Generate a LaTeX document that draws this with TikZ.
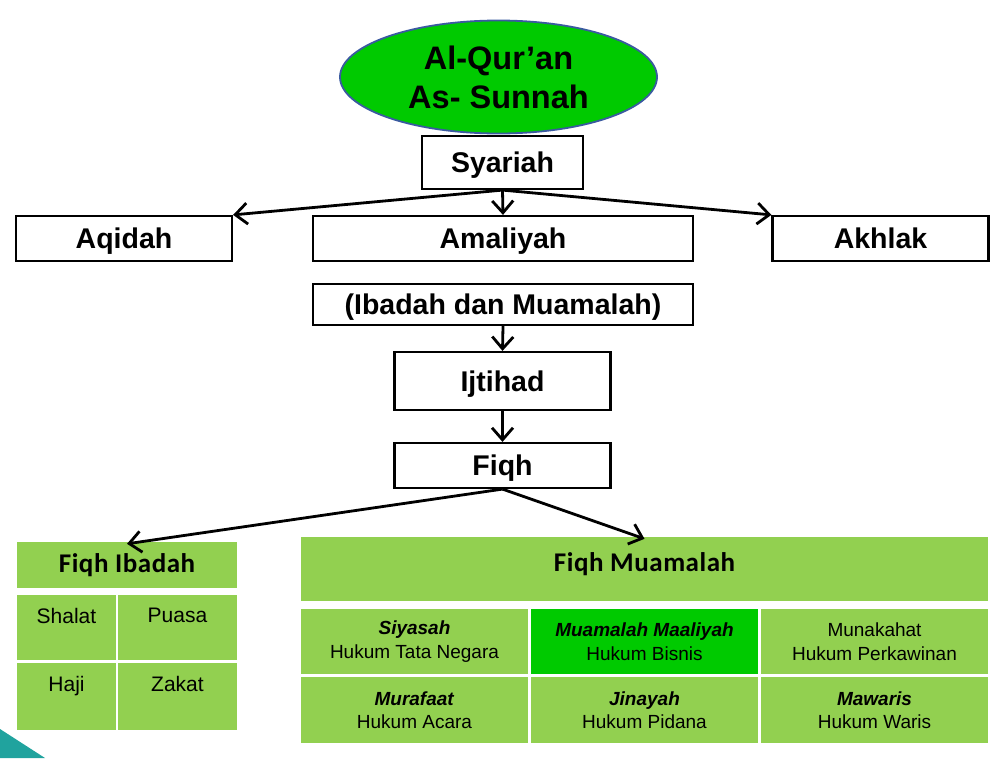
\documentclass[tikz,border=0pt]{standalone}
\usepackage{fontspec}
\setmainfont{Liberation Sans}
\newfontfamily\carlito{Carlito}[LetterSpace=2]
\usetikzlibrary{shapes.geometric,arrows.meta}
\definecolor{lgreen}{RGB}{146,208,80}
\definecolor{dgreen}{RGB}{0,202,0}
\definecolor{eblue}{RGB}{58,90,160}
\definecolor{teal2}{RGB}{32,163,158}
\tikzset{
  box/.style={draw=black,line width=2.2pt,fill=white,inner sep=0pt,
    text height=20.4pt,text depth=0pt,
    font=\fontsize{28.5}{32}\selectfont\bfseries},
  arr/.style={line width=2.8pt,-{Straight Barb[length=12pt,width=21pt,line width=2.8pt]}},
  gcell/.style={fill=lgreen,inner sep=0pt,draw=none},
  ghead/.style={gcell,font=\fontsize{27}{30}\carlito\bfseries},
  ctxt/.style={inner sep=0pt,font=\fontsize{21}{25}\selectfont},
  mtxt/.style={gcell,align=center,font=\fontsize{19}{23.5}\selectfont},
}
\begin{document}
\begin{tikzpicture}[x=1pt,y=-1pt]
\useasboundingbox (0,0) rectangle (1004,758);
\fill[teal2] (0,729) -- (45,758) -- (0,758) -- cycle;

\node[ellipse,draw=eblue,line width=1.8pt,fill=dgreen,minimum width=317,minimum height=113,inner sep=0pt,align=center,
  font=\fontsize{32.5}{39}\selectfont\bfseries] (q) at (498.5,77) {Al-Qur’an\\As- Sunnah};
\node[box,minimum width=161,minimum height=53] (s) at (502.5,162.5) {Syariah};
\node[box,minimum width=216,minimum height=45] (aq) at (124,238.5) {Aqidah};
\node[box,minimum width=380,minimum height=45] (am) at (503,238.5) {Amaliyah};
\node[box,minimum width=216,minimum height=45] (ak) at (880.5,238.5) {Akhlak};
\node[box,minimum width=380,minimum height=41] (ib) at (503,304.5) {(Ibadah dan Muamalah)};
\node[box,minimum width=216,minimum height=58] (ij) at (502.5,381) {Ijtihad};
\node[box,minimum width=216,minimum height=45] (f) at (502.5,465.5) {Fiqh};

\draw[arr] (s.south) -- (aq.north east);
\draw[arr] (s.south) -- (am.north);
\draw[arr] (s.south) -- (ak.north west);
\draw[arr] (ib.south) -- (ij.north);
\draw[arr] (ij.south) -- (f.north);

% Fiqh Ibadah
\node[ghead,minimum width=220,minimum height=46] (fi) at (127,565) {Fiqh Ibadah};
\node[gcell,minimum width=99,minimum height=65,label={[ctxt,anchor=north,yshift=-13pt]north:Shalat}] (c11) at (66.5,627.5) {};
\node[gcell,minimum width=119,minimum height=65,label={[ctxt,anchor=north,yshift=-13pt]north:Puasa}] (c12) at (177.5,627.5) {};
\node[gcell,minimum width=99,minimum height=67,label={[ctxt,anchor=north,yshift=-13pt]north:Haji}] (c21) at (66.5,696.5) {};
\node[gcell,minimum width=119,minimum height=67,label={[ctxt,anchor=north,yshift=-13pt]north:Zakat}] (c22) at (177.5,696.5) {};

% Fiqh Muamalah
\node[ghead,minimum width=687,minimum height=64,text depth=14pt] (fm) at (644.5,569) {Fiqh Muamalah};
\node[mtxt,minimum width=227,minimum height=65] (m11) at (414.5,641.5) {\textbf{\textit{Siyasah}}\\Hukum Tata Negara};
\node[mtxt,fill=dgreen,minimum width=227,minimum height=65] (m12) at (644.5,641.5) {\textbf{\textit{Muamalah Maaliyah}}\\Hukum Bisnis};
\node[mtxt,minimum width=227,minimum height=65] (m13) at (874.5,641.5) {Munakahat\\Hukum Perkawinan};
\node[mtxt,minimum width=227,minimum height=66] (m21) at (414.5,710) {\textbf{\textit{Murafaat}}\\Hukum Acara};
\node[mtxt,minimum width=227,minimum height=66] (m22) at (644.5,710) {\textbf{\textit{Jinayah}}\\Hukum Pidana};
\node[mtxt,minimum width=227,minimum height=66] (m23) at (874.5,710) {\textbf{\textit{Mawaris}}\\Hukum Waris};

\draw[arr] (f.south) -- ([yshift=-2pt]fi.north);
\draw[arr] (f.south) -- ([yshift=-2pt]fm.north);
\end{tikzpicture}
\end{document}
